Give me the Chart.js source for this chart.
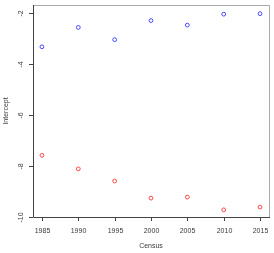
<!DOCTYPE html>
<html>
<head>
<meta charset="utf-8">
<script src="https://cdn.jsdelivr.net/npm/chart.js@4/dist/chart.umd.min.js"></script>
<style>
  html, body { margin: 0; padding: 0; background: #fff; }
  #wrap { width: 274px; height: 253px; }
</style>
</head>
<body>
<div id="wrap"><canvas id="canvas" width="274" height="253"></canvas></div>
<script>
// census years and the two intercept series
var years = [1985, 1990, 1995, 2000, 2005, 2010, 2015];
var upperSeries = [-3.33, -2.57, -3.05, -2.30, -2.48, -2.05, -2.03];
var lowerSeries = [-7.59, -8.12, -8.60, -9.27, -9.23, -9.73, -9.62];
var xTicks = [1985, 1990, 1995, 2000, 2005, 2010, 2015];
var yTicks = [-2, -4, -6, -8, -10];
var xTitle = "Census";
var yTitle = "Intercept";

var font = "7px 'Liberation Sans', Arial, sans-serif";

function toPoints(xs, ys) {
    var pts = [];
    for (let i = 0; i < xs.length; i++) {
        pts.push({ x: xs[i], y: ys[i] });
    }
    return pts;
}

// R style frame, tick marks and labels, placed through the chart's scales
var rAxes = {
    id: "rAxes",
    afterDraw: function (chart) {
        var ctx = chart.ctx;
        var a = chart.chartArea;
        var xs = chart.scales.x, ys = chart.scales.y;
        ctx.save();
        ctx.lineWidth = 1;

        // frame: top and right lighter
        ctx.strokeStyle = "#aaaaaa";
        ctx.beginPath();
        ctx.moveTo(a.left, a.top + 0.5);
        ctx.lineTo(a.right + 0.5, a.top + 0.5);
        ctx.lineTo(a.right + 0.5, a.bottom);
        ctx.stroke();

        ctx.strokeStyle = "#444444";
        ctx.beginPath();
        ctx.moveTo(a.left + 0.5, a.top);
        ctx.lineTo(a.left + 0.5, a.bottom + 0.5);
        ctx.lineTo(a.right + 1, a.bottom + 0.5);
        ctx.stroke();

        ctx.fillStyle = "#3a3a3a";
        ctx.font = font;

        // x ticks
        ctx.textAlign = "center";
        ctx.textBaseline = "middle";
        xTicks.forEach(function (v) {
            var px = Math.round(xs.getPixelForValue(v)) + 0.5;
            ctx.beginPath();
            ctx.moveTo(px, a.bottom);
            ctx.lineTo(px, a.bottom + 4);
            ctx.stroke();
            ctx.fillText(String(v), px, a.bottom + 14);
        });

        // y ticks, labels turned like R's
        yTicks.forEach(function (v) {
            var py = Math.round(ys.getPixelForValue(v)) + 0.5;
            ctx.beginPath();
            ctx.moveTo(a.left - 4, py);
            ctx.lineTo(a.left, py);
            ctx.stroke();
            ctx.save();
            ctx.translate(a.left - 12, py);
            ctx.rotate(-Math.PI / 2);
            ctx.fillText(String(v), 0, 0);
            ctx.restore();
        });

        // axis titles
        ctx.fillText(xTitle, (a.left + a.right) / 2, a.bottom + 29);
        ctx.save();
        ctx.translate(6, (a.top + a.bottom) / 2);
        ctx.rotate(-Math.PI / 2);
        ctx.fillText(yTitle, 0, 0);
        ctx.restore();

        ctx.restore();
    }
};

var ctx = document.getElementById("canvas").getContext("2d");
var myChart = new Chart(ctx, {
    type: "scatter",
    data: {
        datasets: [{
            data: toPoints(years, upperSeries),
            pointStyle: "circle",
            pointRadius: 1.9,
            pointBorderWidth: 1,
            pointBorderColor: "rgba(70,70,255,1)",
            pointBackgroundColor: "rgba(0,0,0,0)",
            showLine: false
        }, {
            data: toPoints(years, lowerSeries),
            pointStyle: "circle",
            pointRadius: 1.9,
            pointBorderWidth: 1,
            pointBorderColor: "rgba(255,70,70,1)",
            pointBackgroundColor: "rgba(0,0,0,0)",
            showLine: false
        }]
    },
    options: {
        responsive: false,
        animation: false,
        devicePixelRatio: 1,
        layout: {
            padding: { left: 33, top: 4, right: 3, bottom: 36 }
        },
        plugins: {
            legend: { display: false },
            tooltip: { enabled: false }
        },
        scales: {
            x: {
                type: "linear",
                min: 1983.77,
                max: 2016.23,
                display: false
            },
            y: {
                type: "linear",
                min: -10.01,
                max: -1.69,
                display: false
            }
        }
    },
    plugins: [rAxes]
});
</script>
</body>
</html>
